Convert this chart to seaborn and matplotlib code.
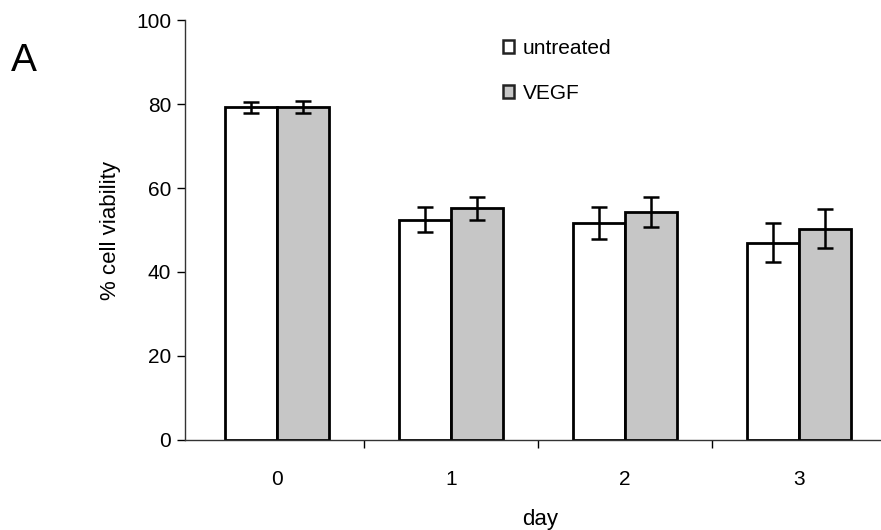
import matplotlib
matplotlib.use("Agg")
import matplotlib.pyplot as plt
from matplotlib.patches import Patch
import pandas as pd
import seaborn as sns

days = ["0", "1", "2", "3"]
untreated = [79.2, 52.5, 51.7, 47.0]
untreated_err = [1.4, 3.0, 3.8, 4.7]
vegf = [79.3, 55.2, 54.3, 50.3]
vegf_err = [1.4, 2.7, 3.6, 4.7]

df = pd.DataFrame({
    "day": days * 2,
    "viability": untreated + vegf,
    "group": ["untreated"] * 4 + ["VEGF"] * 4,
})

sns.set_style("white", {"text.color": "black", "axes.labelcolor": "black",
                        "xtick.color": "black", "ytick.color": "black"})
plt.rcParams["font.family"] = ["Liberation Sans", "DejaVu Sans"]

fig = plt.figure(figsize=(8.81, 5.30), dpi=100)
ax = fig.add_axes([0.21, 0.17, 0.79, 0.792])

palette = {"untreated": "white", "VEGF": "#c6c6c6"}
sns.barplot(data=df, x="day", y="viability", hue="group", palette=palette,
            width=0.6, edgecolor="black", linewidth=2, errorbar=None,
            legend=False, ax=ax)

# error bars from the precomputed SEMs, placed on the drawn bars
for cont, errs in zip(ax.containers, [untreated_err, vegf_err]):
    for bar, e in zip(cont, errs):
        ax.errorbar(bar.get_x() + bar.get_width() / 2, bar.get_height(), yerr=e,
                    fmt="none", ecolor="black", elinewidth=1.8, capsize=6,
                    capthick=1.8, zorder=5)

ax.set_ylim(0, 100)
ax.set_xlim(-0.53, 3.47)
ax.set_yticks([0, 20, 40, 60, 80, 100])
ax.tick_params(axis="y", which="major", direction="out", length=6, width=1,
               labelsize=15, left=True, pad=4)
ax.set_xticks(range(4))
ax.set_xticklabels(days)
ax.set_xticks([0.5, 1.5, 2.5], minor=True)
ax.tick_params(axis="x", which="major", length=0, labelsize=15, pad=22)
ax.tick_params(axis="x", which="minor", direction="out", length=6, width=1,
               bottom=True)

for s in ["top", "right"]:
    ax.spines[s].set_visible(False)
for s in ["left", "bottom"]:
    ax.spines[s].set_color("#333333")
    ax.spines[s].set_linewidth(1)

ax.set_xlabel("day", fontsize=16, labelpad=10)
ax.set_ylabel("% cell viability", fontsize=16, labelpad=11)
ax.xaxis.set_label_coords(0.51, -0.165)

handles = [Patch(facecolor="white", edgecolor="#222222", linewidth=1.8),
           Patch(facecolor="#c6c6c6", edgecolor="#222222", linewidth=1.8)]
ax.legend(handles, ["untreated", "VEGF"], loc="upper left",
          bbox_to_anchor=(0.43, 1.0), frameon=False, fontsize=15,
          handlelength=0.55, handleheight=0.55, handletextpad=0.4,
          labelspacing=1.25)

fig.text(0.012, 0.885, "A", fontsize=28, va="center", color="black")

fig.savefig("out.png", dpi=100, facecolor="white")
